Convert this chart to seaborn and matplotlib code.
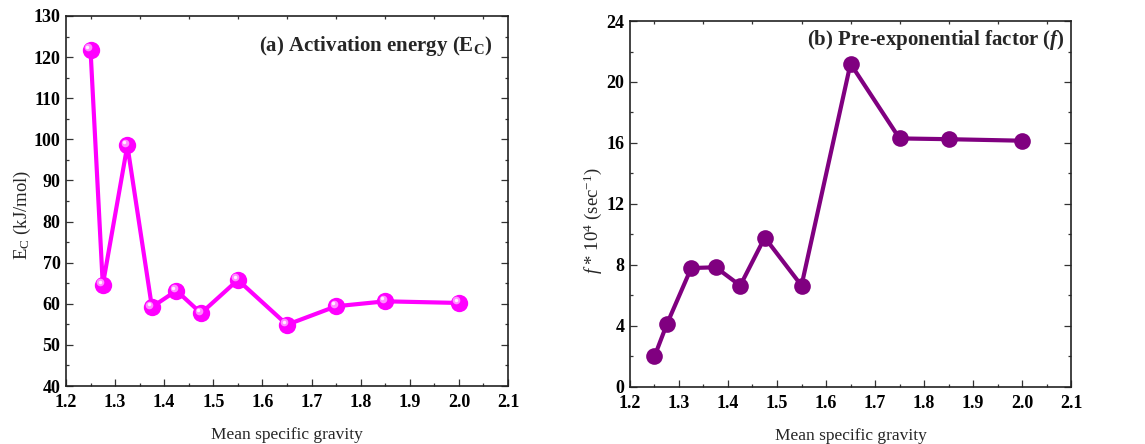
import matplotlib
matplotlib.use("Agg")
import matplotlib.pyplot as plt
import matplotlib.transforms as mtransforms
from matplotlib.ticker import MultipleLocator, FormatStrFormatter
import seaborn as sns
import pandas as pd

gravity = [1.25, 1.275, 1.325, 1.375, 1.425, 1.475, 1.55, 1.65, 1.75, 1.85, 2.0]
energy = [121.8, 64.6, 98.5, 59.2, 63.2, 57.7, 65.8, 54.9, 59.4, 60.6, 60.2]
factor = [2.0, 4.1, 7.8, 7.85, 6.65, 9.8, 6.65, 21.2, 16.3, 16.25, 16.15]

df = pd.DataFrame({"gravity": gravity, "energy": energy, "factor": factor})

sns.set_theme(style="ticks")
plt.rcParams['font.family'] = ['Liberation Serif', 'DejaVu Serif']
plt.rcParams['mathtext.fontset'] = 'custom'
plt.rcParams['mathtext.rm'] = 'Liberation Serif'
plt.rcParams['mathtext.it'] = 'Liberation Serif:italic'
plt.rcParams['mathtext.bf'] = 'Liberation Serif:bold'
plt.rcParams['mathtext.bfit'] = 'Liberation Serif:bold:italic'

fig = plt.figure(figsize=(11.45, 4.44), dpi=100)
ax1 = fig.add_axes([0.0576, 0.1306, 0.3861, 0.8334])
ax2 = fig.add_axes([0.5502, 0.1284, 0.3852, 0.8243])

magenta = "#FF00FF"
purple = "#800080"

sns.lineplot(data=df, x="gravity", y="energy", ax=ax1, color=magenta, lw=3,
             marker="o", markersize=12.5, markeredgewidth=0, markerfacecolor=magenta)
# highlight on spheres
hl = mtransforms.offset_copy(ax1.transData, fig=fig, x=-1.8, y=1.8, units='points')
ax1.plot(df["gravity"], df["energy"], ls="none", marker="o", markersize=5.5,
         markerfacecolor="#FF9CFF", markeredgewidth=0, alpha=0.9, transform=hl)
hl2 = mtransforms.offset_copy(ax1.transData, fig=fig, x=-2.2, y=2.2, units='points')
ax1.plot(df["gravity"], df["energy"], ls="none", marker="o", markersize=2.5,
         markerfacecolor="#FFF0FF", markeredgewidth=0, transform=hl2)

sns.lineplot(data=df, x="gravity", y="factor", ax=ax2, color=purple, lw=3,
             marker="o", markersize=12, markeredgewidth=0, markerfacecolor=purple)

ax1.set_xlim(1.2, 2.1)
ax1.set_ylim(40, 130)
ax1.yaxis.set_major_locator(MultipleLocator(10))
ax1.yaxis.set_minor_locator(MultipleLocator(5))
ax2.set_xlim(1.2, 2.1)
ax2.set_ylim(0, 24)
ax2.yaxis.set_major_locator(MultipleLocator(4))
ax2.yaxis.set_minor_locator(MultipleLocator(2))

for ax in (ax1, ax2):
    ax.xaxis.set_major_locator(MultipleLocator(0.1))
    ax.xaxis.set_minor_locator(MultipleLocator(0.05))
    ax.xaxis.set_major_formatter(FormatStrFormatter("%.1f"))
    ax.tick_params(which="both", direction="in", top=True, right=True, width=0.9, colors="#333333",
                   labelcolor="black")
    ax.tick_params(which="major", length=5, labelsize=13)
    ax.tick_params(which="minor", length=2.5)
    ax.tick_params(axis="x", which="major", top=False, pad=6)
    ax.tick_params(axis="y", which="major", pad=4)
    ax.tick_params(axis="x", which="minor", top=True, bottom=True)
    for sp in ax.spines.values():
        sp.set_linewidth(1.2)
        sp.set_color("#222222")
    ax.set_xlabel("Mean specific gravity", fontsize=12.5, labelpad=11)
    for lab in ax.get_xticklabels() + ax.get_yticklabels():
        lab.set_fontweight("bold")

ax1.set_ylabel(r"E$_\mathregular{C}$ (kJ/mol)", fontsize=13.5)
ax2.set_ylabel(r"$f$ * 10$^\mathregular{4}$ (sec$^\mathregular{-1}$)", fontsize=13.5)
ax1.yaxis.set_label_coords(-0.074, 0.462)
ax2.yaxis.set_label_coords(-0.06, 0.455)

ax1.text(0.965, 0.92, r"(a) Activation energy (E$_\mathbf{C}$)", transform=ax1.transAxes,
         ha="right", va="center", fontsize=15, fontweight="bold")
ax2.text(0.985, 0.948, r"(b) Pre-exponential factor ($\mathbfit{f}$)", transform=ax2.transAxes,
         ha="right", va="center", fontsize=15, fontweight="bold")

fig.savefig("out.png", dpi=100)
